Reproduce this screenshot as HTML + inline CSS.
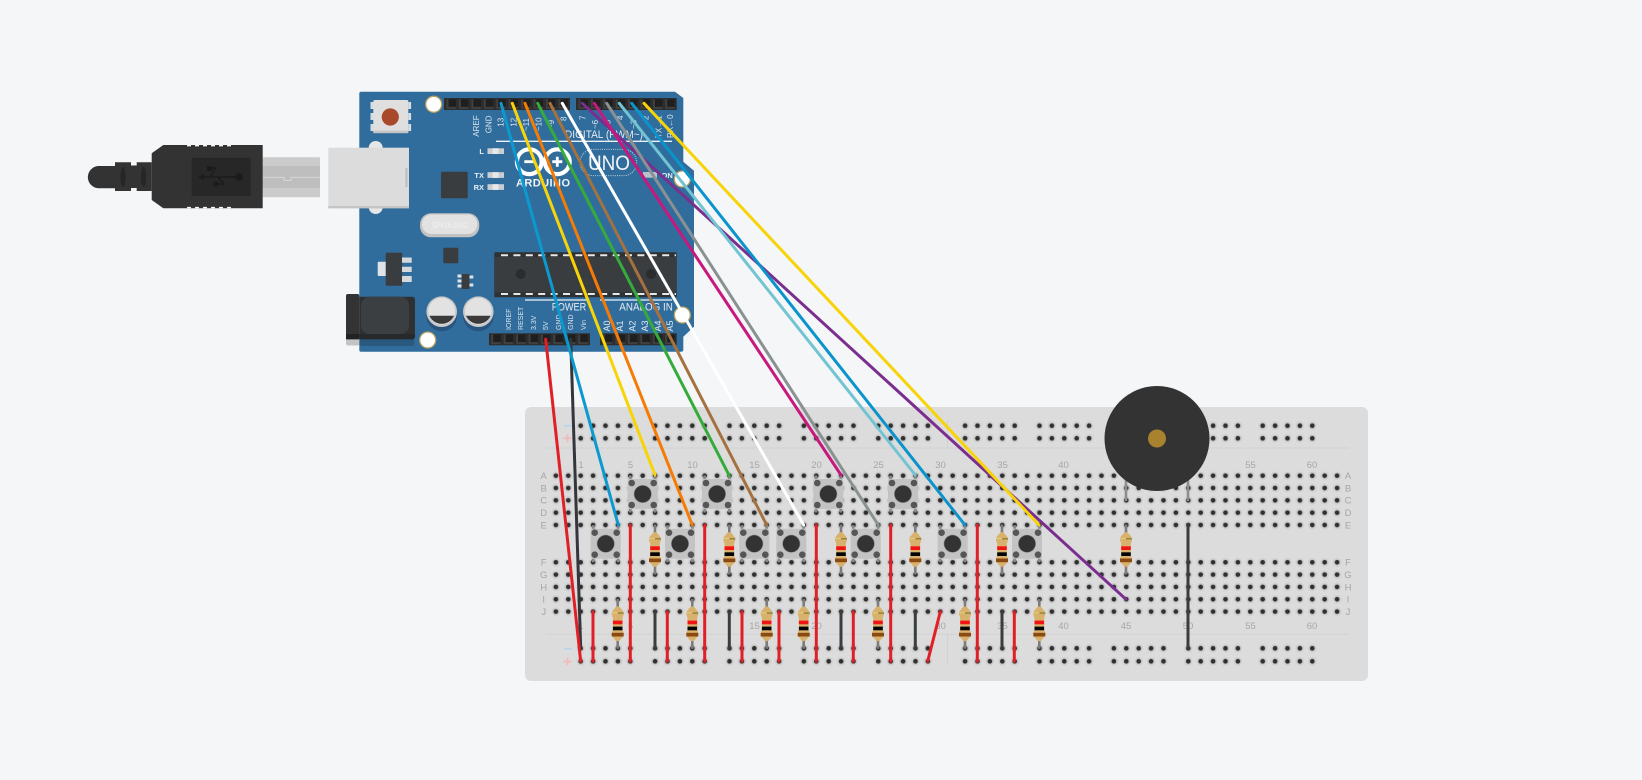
<!DOCTYPE html>
<html><head><meta charset="utf-8"><style>
html,body{margin:0;padding:0;background:#f4f6f8;width:1642px;height:780px;overflow:hidden}
svg{display:block}
text{font-family:"Liberation Sans",sans-serif}
.bl{font-size:9.5px;fill:#a6a6a6;text-anchor:middle}
.al{font-size:8px;fill:#dbe5ec;text-anchor:start}
.as{font-size:7px;fill:#dbe5ec;text-anchor:start}
.aa{font-size:9px;fill:#e3ebf1;text-anchor:start}
.ah{font-size:11px;fill:#e6edf3}
.sl{font-size:7.5px;font-weight:bold;fill:#e6edf3}
</style></head><body>
<svg width="1642" height="780" viewBox="0 0 1642 780" xmlns="http://www.w3.org/2000/svg">
<defs>
<radialGradient id="hg"><stop offset="0.45" stop-color="#bababa"/><stop offset="0.75" stop-color="#d0d0d0"/><stop offset="1" stop-color="#dcdcdc"/></radialGradient>
<pattern id="hm" patternUnits="userSpaceOnUse" x="549.7" y="469.5" width="12.4" height="12.33">
<circle cx="6.2" cy="6.2" r="4.8" fill="url(#hg)"/><circle cx="6.2" cy="6.2" r="2.3" fill="#303030"/>
</pattern>
<pattern id="hn" patternUnits="userSpaceOnUse" x="549.7" y="556.1" width="12.4" height="12.33">
<circle cx="6.2" cy="6.2" r="4.8" fill="url(#hg)"/><circle cx="6.2" cy="6.2" r="2.3" fill="#303030"/>
</pattern>
<pattern id="rt" patternUnits="userSpaceOnUse" x="574.5" y="419.5" width="12.4" height="12.6">
<circle cx="6.2" cy="6.2" r="4.8" fill="url(#hg)"/><circle cx="6.2" cy="6.2" r="2.3" fill="#303030"/>
</pattern>
<pattern id="rb" patternUnits="userSpaceOnUse" x="574.5" y="642.1" width="12.4" height="13">
<circle cx="6.2" cy="6.2" r="4.8" fill="url(#hg)"/><circle cx="6.2" cy="6.2" r="2.3" fill="#303030"/>
</pattern>
<g id="btn">
<path d="M-12.4-18.5V18.5M12.4-18.5V18.5" stroke="#8a8a8a" stroke-width="2.6"/>
<rect x="-15" y="-15" width="30" height="30" rx="1.5" fill="#c3c3c3"/>
<circle cx="-11" cy="-11" r="3.3" fill="#565656"/><circle cx="11" cy="-11" r="3.3" fill="#565656"/>
<circle cx="-11" cy="11" r="3.3" fill="#565656"/><circle cx="11" cy="11" r="3.3" fill="#565656"/>
<circle cx="0" cy="0" r="9" fill="#8f8f8f"/><circle cx="0" cy="0" r="8.4" fill="#333"/>
</g>
<g id="res">
<path d="M0-25V25" stroke="#7c7c7c" stroke-width="2.6"/>
<path d="M-1.6-17.3C-3-15-6-13-6-10.5C-6-8-4.8-7-4.8-5V5C-4.8 7-6 8-6 10.5C-6 13-3 15-1.6 17.3H1.6C3 15 6 13 6 10.5C6 8 4.8 7 4.8 5V-5C4.8-7 6-8 6-10.5C6-13 3-15 1.6-17.3Z" fill="#d8b26c"/>
<rect x="0" y="-11.5" width="6" height="1.5" fill="#8f8740"/><rect x="-6" y="-11.5" width="6" height="1" fill="#e3cf7a"/>
<rect x="-4.8" y="-3.2" width="9.6" height="3.7" fill="#f01414"/>
<rect x="-4.8" y="2.8" width="9.6" height="3.7" fill="#050505"/>
<rect x="-6" y="9" width="12" height="3.7" fill="#8a4a12"/>
</g>
<g id="pin"><rect x="-4.8" y="-4.8" width="9.6" height="9.6" fill="#404040"/><rect x="-2.8" y="-4.8" width="7.6" height="7.6" fill="#1f1f1f"/></g>
<g id="hole"><circle r="8" fill="#fff" stroke="#b8a163" stroke-width="1.3"/></g>
</defs>

<rect width="1642" height="780" fill="#f4f6f8"/>

<!-- breadboard -->
<rect x="525" y="407" width="843" height="274" rx="6" fill="#dcdcdc"/>
<path d="M546 448H1348.7M546 634.3H1348.7M947.5 420V448M947.5 634.3V664" stroke="#d2d2d2" stroke-width="1" fill="none"/>
<rect x="549.7" y="469.5" width="793.6" height="61.7" fill="url(#hm)"/>
<rect x="549.7" y="556.1" width="793.6" height="61.7" fill="url(#hn)"/>
<!-- rails -->
<g fill="url(#rt)">
<rect x="574.5" y="419.5" width="62" height="25.2"/><rect x="648.9" y="419.5" width="62" height="25.2"/><rect x="723.3" y="419.5" width="62" height="25.2"/><rect x="797.7" y="419.5" width="62" height="25.2"/><rect x="872.1" y="419.5" width="62" height="25.2"/><rect x="958.9" y="419.5" width="62" height="25.2"/><rect x="1033.3" y="419.5" width="62" height="25.2"/><rect x="1107.7" y="419.5" width="62" height="25.2"/><rect x="1182.1" y="419.5" width="62" height="25.2"/><rect x="1256.5" y="419.5" width="62" height="25.2"/>
</g>
<g fill="url(#rb)">
<rect x="574.5" y="642.1" width="62" height="26"/><rect x="648.9" y="642.1" width="62" height="26"/><rect x="723.3" y="642.1" width="62" height="26"/><rect x="797.7" y="642.1" width="62" height="26"/><rect x="872.1" y="642.1" width="62" height="26"/><rect x="958.9" y="642.1" width="62" height="26"/><rect x="1033.3" y="642.1" width="62" height="26"/><rect x="1107.7" y="642.1" width="62" height="26"/><rect x="1182.1" y="642.1" width="62" height="26"/><rect x="1256.5" y="642.1" width="62" height="26"/>
</g>
<path d="M564 425.7H572M564 648.8H572" stroke="#b9d6e8" stroke-width="2"/>
<path d="M563.5 438.3H571.5M567.5 434.3V442.3M563.5 661.5H571.5M567.5 657.5V665.5" stroke="#f2bcbc" stroke-width="2"/>
<!-- column labels -->
<g>
<text class="bl" x="581" y="468">1</text><text class="bl" x="630.5" y="468">5</text><text class="bl" x="692.5" y="468">10</text><text class="bl" x="754.5" y="468">15</text><text class="bl" x="816.5" y="468">20</text><text class="bl" x="878.5" y="468">25</text><text class="bl" x="940.5" y="468">30</text><text class="bl" x="1002.5" y="468">35</text><text class="bl" x="1063.5" y="468">40</text><text class="bl" x="1126" y="468">45</text><text class="bl" x="1188" y="468">50</text><text class="bl" x="1250.5" y="468">55</text><text class="bl" x="1312" y="468">60</text>
<text class="bl" x="581" y="629">1</text><text class="bl" x="630.5" y="629">5</text><text class="bl" x="692.5" y="629">10</text><text class="bl" x="754.5" y="629">15</text><text class="bl" x="816.5" y="629">20</text><text class="bl" x="878.5" y="629">25</text><text class="bl" x="940.5" y="629">30</text><text class="bl" x="1002.5" y="629">35</text><text class="bl" x="1063.5" y="629">40</text><text class="bl" x="1126" y="629">45</text><text class="bl" x="1188" y="629">50</text><text class="bl" x="1250.5" y="629">55</text><text class="bl" x="1312" y="629">60</text>
<text class="bl" x="543.7" y="479">A</text><text class="bl" x="543.7" y="491.5">B</text><text class="bl" x="543.7" y="503.5">C</text><text class="bl" x="543.7" y="516">D</text><text class="bl" x="543.7" y="528.5">E</text><text class="bl" x="543.7" y="565.5">F</text><text class="bl" x="543.7" y="578">G</text><text class="bl" x="543.7" y="590.5">H</text><text class="bl" x="543.7" y="602.5">I</text><text class="bl" x="543.7" y="615">J</text>
<text class="bl" x="1348" y="479">A</text><text class="bl" x="1348" y="491.5">B</text><text class="bl" x="1348" y="503.5">C</text><text class="bl" x="1348" y="516">D</text><text class="bl" x="1348" y="528.5">E</text><text class="bl" x="1348" y="565.5">F</text><text class="bl" x="1348" y="578">G</text><text class="bl" x="1348" y="590.5">H</text><text class="bl" x="1348" y="602.5">I</text><text class="bl" x="1348" y="615">J</text>
</g>
<!-- buttons -->
<use href="#btn" x="642.7" y="494"/><use href="#btn" x="717" y="494"/><use href="#btn" x="828.3" y="494"/><use href="#btn" x="903" y="494"/>
<use href="#btn" x="605.7" y="543.7"/><use href="#btn" x="680" y="543.7"/><use href="#btn" x="754.3" y="543.7"/><use href="#btn" x="791.3" y="543.7"/><use href="#btn" x="865.7" y="543.7"/><use href="#btn" x="952.6" y="543.7"/><use href="#btn" x="1027" y="543.7"/>
<!-- resistors -->
<use href="#res" x="655" y="549.5"/><use href="#res" x="729.3" y="549.5"/><use href="#res" x="841" y="549.5"/><use href="#res" x="915.3" y="549.5"/><use href="#res" x="1002" y="549.5"/><use href="#res" x="1126" y="549.5"/>
<use href="#res" x="617.7" y="623.8"/><use href="#res" x="692.3" y="623.8"/><use href="#res" x="766.7" y="623.8"/><use href="#res" x="803.7" y="623.8"/><use href="#res" x="878" y="623.8"/><use href="#res" x="965" y="623.8"/><use href="#res" x="1039.3" y="623.8"/>
<!-- breadboard wires -->
<g stroke-width="3" stroke-linecap="round" fill="none">
<g stroke="#3a3d40"><path d="M655 611.7V648.3M729.3 611.7V648.3M841 611.7V648.3M915.3 611.7V648.3M1002 611.7V648.3M1188 525V648.3"/></g>
<g stroke="#e11f26"><path d="M593 611.7V661.3M667.3 611.7V661.3M742 611.7V661.3M779 611.7V661.3M853.3 611.7V661.3M1014.3 611.7V661.3M630.3 525V661.3M704.7 525V661.3M816.3 525V661.3M890.7 525V661.3M977.3 525V661.3M940.3 611.7L927.7 661.3"/></g>
</g>
<!-- buzzer pins -->
<path d="M1126 480V500M1188 480V500" stroke="#8d8d8d" stroke-width="2.6" stroke-linecap="round"/>

<!-- Arduino board -->
<path d="M361 91.7H675L683.3 98V161.7L694 170.7V326.7L683.3 336.7V349.7Q683.3 351.7 681 351.7H361Q359.3 351.7 359.3 349.7V93.5Q359.3 91.7 361 91.7Z" fill="#306d9c"/>
<rect x="359.3" y="330" width="55" height="16" rx="2" fill="#29597f"/>
<!-- USB -->
<path d="M375.7 141a7 7 0 0 1 7 7V207a7 7 0 0 1-14 0V148a7 7 0 0 1 7-7Z" fill="#e6e6e6"/>
<rect x="262.7" y="157.3" width="57.3" height="40" rx="1" fill="#cbcbcb"/>
<rect x="262.7" y="166" width="57.3" height="22" fill="#bebebe"/>
<path d="M262.7 177.4H284V180.5H291V177.4H320" stroke="#d8d8d8" stroke-width="1" fill="none"/>
<rect x="328.3" y="147.7" width="80.7" height="59.6" fill="#dcdcdc"/>
<rect x="328.3" y="206" width="80.7" height="2.4" fill="#c4c4c4"/>
<rect x="405.5" y="168" width="2" height="19" fill="#bdbdbd"/>
<path d="M98 166H115V188.3H98A11.2 11.2 0 0 1 98 166Z" fill="#333"/>
<path d="M115 162.3H131V165.5H136.7V162.3H151.7V191H136.7V188H131V191H115Z" fill="#333"/>
<ellipse cx="123" cy="177" rx="2.6" ry="10" fill="#262626"/><ellipse cx="143.5" cy="177" rx="2.6" ry="10" fill="#262626"/>
<path d="M163.3 145H262.7V208.3H163.3L151.7 200V153.3Z" fill="#333"/>
<path d="M187 145.7h4M195 145.7h4M203 145.7h4M211 145.7h4M219 145.7h4M227 145.7h4M187 207.6h4M195 207.6h4M203 207.6h4M211 207.6h4M219 207.6h4M227 207.6h4" stroke="#f4f6f8" stroke-width="1.4"/>
<rect x="191.7" y="157.7" width="59" height="38.3" fill="#272727"/>
<path d="M201 177H239M210 177L216 168H207M218 177L224 184H216" stroke="#1b1b1b" stroke-width="1.4" fill="none"/>
<path d="M198 177L204 174V180Z" fill="#1b1b1b"/><circle cx="239" cy="177" r="3.8" fill="#1b1b1b"/><circle cx="216" cy="184" r="2.6" fill="#1b1b1b"/><rect x="207" y="166" width="5" height="5" fill="#1b1b1b"/>
<!-- reset -->
<path d="M370.5 102h3v7h-3ZM370.5 113h3v7h-3ZM370.5 124h3v7h-3ZM408.3 102h2.8v7h-2.8ZM408.3 124h2.8v7h-2.8ZM408.3 113h2.8v7h-2.8Z" fill="#d6dde3"/>
<rect x="373.3" y="100" width="35" height="32.7" rx="1.5" fill="#dfdfdf"/>
<rect x="373.3" y="130.7" width="35" height="2.5" fill="#c5c5c5"/>
<circle cx="390.3" cy="117" r="8.6" fill="#a9492b"/>
<use href="#hole" x="433.7" y="104.3"/><use href="#hole" x="682.3" y="179"/><use href="#hole" x="427.7" y="340"/><use href="#hole" x="682.3" y="315"/>
<!-- headers -->
<rect x="444" y="98" width="126" height="12" fill="#2d2d2d"/><rect x="576" y="98" width="100.7" height="12" fill="#2d2d2d"/>
<rect x="489" y="333.3" width="101" height="12" fill="#2d2d2d"/><rect x="600" y="333.3" width="76.7" height="12" fill="#2d2d2d"/>
<use href="#pin" x="451.3" y="104"/><use href="#pin" x="463.7" y="104"/><use href="#pin" x="476.2" y="104"/><use href="#pin" x="488.6" y="104"/><use href="#pin" x="501" y="104"/><use href="#pin" x="513.5" y="104"/><use href="#pin" x="526" y="104"/><use href="#pin" x="538.4" y="104"/><use href="#pin" x="550.8" y="104"/><use href="#pin" x="563.3" y="104"/>
<use href="#pin" x="583.3" y="104"/><use href="#pin" x="595.7" y="104"/><use href="#pin" x="608.1" y="104"/><use href="#pin" x="620.5" y="104"/><use href="#pin" x="632.9" y="104"/><use href="#pin" x="645.3" y="104"/><use href="#pin" x="657.7" y="104"/><use href="#pin" x="670" y="104"/>
<use href="#pin" x="496" y="339.3"/><use href="#pin" x="508.4" y="339.3"/><use href="#pin" x="520.9" y="339.3"/><use href="#pin" x="533.3" y="339.3"/><use href="#pin" x="545.7" y="339.3"/><use href="#pin" x="558.1" y="339.3"/><use href="#pin" x="570.6" y="339.3"/><use href="#pin" x="583" y="339.3"/>
<use href="#pin" x="607.7" y="339.3"/><use href="#pin" x="620.2" y="339.3"/><use href="#pin" x="632.6" y="339.3"/><use href="#pin" x="645.1" y="339.3"/><use href="#pin" x="657.5" y="339.3"/><use href="#pin" x="670" y="339.3"/>
<!-- top labels -->
<text class="al" transform="translate(479 136.7) rotate(-90)">AREF</text>
<text class="al" transform="translate(491.3 133.3) rotate(-90)">GND</text>
<text class="al" transform="translate(503.7 126.7) rotate(-90)">13</text>
<text class="al" transform="translate(516.3 126.7) rotate(-90)">12</text>
<text class="al" transform="translate(529 131) rotate(-90)">~11</text>
<text class="al" transform="translate(541.3 131) rotate(-90)">~10</text>
<text class="al" transform="translate(554 129) rotate(-90)">~9</text>
<text class="al" transform="translate(566.3 121) rotate(-90)">8</text>
<text class="al" transform="translate(585.7 120) rotate(-90)">7</text>
<text class="al" transform="translate(598 129) rotate(-90)">~6</text>
<text class="al" transform="translate(610.7 129) rotate(-90)">~5</text>
<text class="al" transform="translate(623 120) rotate(-90)">4</text>
<text class="al" transform="translate(636.3 129) rotate(-90)">~3</text>
<text class="al" transform="translate(648.7 120) rotate(-90)">2</text>
<text class="al" transform="translate(661.3 138) rotate(-90)">TX&#8594;1</text>
<text class="al" transform="translate(673 138) rotate(-90)">RX&#8592;0</text>
<text class="ah" x="565" y="138" textLength="78" lengthAdjust="spacingAndGlyphs">DIGITAL (PWM~)</text>
<path d="M496 141.3H672M525 300H586.7M600 300H672" stroke="#eef3f6" stroke-width="1.3"/>
<!-- LEDs -->
<rect x="487.5" y="148.3" width="16.5" height="5.7" fill="#c9ced2"/><rect x="492.5" y="148.3" width="6" height="5.7" fill="#e8e8e8"/>
<rect x="487.5" y="172.2" width="16.5" height="5.7" fill="#c9ced2"/><rect x="492.5" y="172.2" width="6" height="5.7" fill="#e8e8e8"/>
<rect x="487.5" y="184.2" width="16.5" height="5.7" fill="#c9ced2"/><rect x="492.5" y="184.2" width="6" height="5.7" fill="#e8e8e8"/>
<rect x="643" y="172" width="14" height="5.7" fill="#b8c2ca"/>
<text class="sl" x="484" y="154" text-anchor="end">L</text>
<text class="sl" x="484" y="178" text-anchor="end">TX</text>
<text class="sl" x="484" y="190" text-anchor="end">RX</text>
<text class="sl" x="661.5" y="178">ON</text>
<!-- logo -->
<circle cx="529.3" cy="161.7" r="12.4" fill="none" stroke="#fff" stroke-width="4.2"/>
<circle cx="557.3" cy="161.7" r="12.4" fill="none" stroke="#fff" stroke-width="4.2"/>
<path d="M524.3 161.7H534.3M552.3 161.7H562.3M557.3 156.7V166.7" stroke="#fff" stroke-width="2.8"/>
<text x="516" y="186.7" font-size="11" font-weight="bold" textLength="54" fill="#f0f4f7">ARDUINO</text>
<rect x="580" y="149.3" width="56.7" height="26.4" rx="13.2" fill="none" stroke="#d5e0e8" stroke-width="0.9" stroke-dasharray="1 1.2"/>
<text x="588" y="170" font-size="21" textLength="42" lengthAdjust="spacingAndGlyphs" fill="#f0f4f7">UNO</text>
<!-- chips -->
<rect x="441" y="171.7" width="26.7" height="26.6" rx="1" fill="#3a3d40"/>
<rect x="420" y="213.3" width="59.3" height="24" rx="11" fill="#c2c2c2"/>
<rect x="422" y="214.5" width="55.3" height="19.5" rx="9.5" fill="#e2e2e2"/>
<text x="432" y="228" font-size="8" textLength="36" lengthAdjust="spacingAndGlyphs" fill="#f2f2f2">SPK16.000G</text>
<rect x="443.3" y="247.7" width="15" height="15.6" rx="0.8" fill="#3a3d40"/>
<rect x="377.7" y="261.7" width="9" height="14.3" rx="1" fill="#dfe4e8"/>
<rect x="385.7" y="252.7" width="16.6" height="33" rx="1" fill="#3a3d40"/>
<path d="M402 257.5h9.7v5.3H402ZM402 266.7h9.7v5.3H402ZM402 276h9.7v6H402Z" fill="#d6d9dc"/>
<path d="M457.5 274.5h4v3h-4ZM457.5 279.5h4v3h-4ZM457.5 284.5h4v3h-4ZM469.3 275.5h4v3h-4ZM469.3 283.5h4v3h-4Z" fill="#dfe3e6"/>
<rect x="461.5" y="274" width="8" height="15" fill="#3a3d40"/>
<rect x="494.3" y="252.3" width="182.4" height="45" rx="1" fill="#2f3133"/>
<rect x="494.3" y="257" width="182.4" height="35.5" fill="#3a3d40"/>
<path d="M501 255.2H676" stroke="#e8e8e8" stroke-width="2" stroke-dasharray="7 5.4"/>
<path d="M501 294H676" stroke="#e8e8e8" stroke-width="2" stroke-dasharray="7 5.4"/>
<circle cx="520.7" cy="274" r="5" fill="#2a2c2e"/><circle cx="651" cy="274" r="5" fill="#2a2c2e"/>
<text class="ah" x="551.7" y="310.5" textLength="34.5" lengthAdjust="spacingAndGlyphs">POWER</text>
<text class="ah" x="619.3" y="310.5" textLength="53.5" lengthAdjust="spacingAndGlyphs">ANALOG IN</text>
<g>
<text class="as" transform="translate(510.8 330) rotate(-90)">IOREF</text>
<text class="as" transform="translate(523.2 330) rotate(-90)">RESET</text>
<text class="as" transform="translate(535.8 330) rotate(-90)">3.3V</text>
<text class="as" transform="translate(548.2 330) rotate(-90)">5V</text>
<text class="as" transform="translate(560.8 330) rotate(-90)">GND</text>
<text class="as" transform="translate(573.2 330) rotate(-90)">GND</text>
<text class="as" transform="translate(585.8 330) rotate(-90)">Vin</text>
<text class="aa" transform="translate(609.9 331.5) rotate(-90)">A0</text>
<text class="aa" transform="translate(623.2 331.5) rotate(-90)">A1</text>
<text class="aa" transform="translate(635.5 331.5) rotate(-90)">A2</text>
<text class="aa" transform="translate(648.2 331.5) rotate(-90)">A3</text>
<text class="aa" transform="translate(660.9 331.5) rotate(-90)">A4</text>
<text class="aa" transform="translate(673.2 331.5) rotate(-90)">A5</text>
</g>
<!-- caps -->
<circle cx="441.7" cy="316" r="15.3" fill="#285480"/><circle cx="478.3" cy="316" r="15.3" fill="#285480"/>
<circle cx="441.7" cy="311.7" r="15.3" fill="#c9c9c9"/><circle cx="478.3" cy="311.7" r="15.3" fill="#c9c9c9"/>
<circle cx="441.7" cy="311.2" r="13.4" fill="#e2e2e2"/><circle cx="478.3" cy="311.2" r="13.4" fill="#e2e2e2"/>
<path d="M429.4 315.7H454A13.4 13.4 0 0 1 429.4 315.7Z" fill="#3a3a3a"/><path d="M466 315.7H490.6A13.4 13.4 0 0 1 466 315.7Z" fill="#3a3a3a"/>
<!-- jack -->
<rect x="346" y="335" width="13.3" height="10.5" rx="2" fill="#c4c4c4"/>
<rect x="346" y="294" width="13.3" height="45.3" rx="2" fill="#333"/>
<rect x="346" y="334" width="13.3" height="5.3" fill="#222"/>
<path d="M359.3 296.7H412Q415 296.7 415 299.7V336Q415 339.3 412 339.3H359.3Z" fill="#2e3032"/>
<rect x="361" y="296.7" width="48" height="37.5" rx="9" fill="#3c3f42"/>
<path d="M359.3 334H415V336Q415 339.3 412 339.3H359.3Z" fill="#28292b"/>
<!-- long wires -->
<g stroke-width="3" stroke-linecap="round" fill="none">
<path d="M570.7 339.3L580.7 648.3" stroke="#33363a"/>
<path d="M545.7 339.3L580.7 661.3" stroke="#e11f26"/>
<path d="M582.3 103.3L1126 599.3" stroke="#7a2e8e"/>
<path d="M606.7 103.3L878.3 525" stroke="#8a9192"/>
<path d="M594.3 103.3L841 475" stroke="#c7187f"/>
<path d="M562.3 103.3L803.7 525" stroke="#ffffff"/>
<path d="M550 103.3L766.7 525" stroke="#a5713f"/>
<path d="M537.7 103.3L729.3 475.7" stroke="#35ab3c"/>
<path d="M525 103.3L692.3 525" stroke="#f57b05"/>
<path d="M512.3 103.3L655 475" stroke="#f7d308"/>
<path d="M501 103.3L618.3 525" stroke="#0b99cf"/>
<path d="M619.3 103.3L915.3 475" stroke="#72c4d2"/>
<path d="M631.7 103.3L965 525" stroke="#0b93cc"/>
<path d="M644 103.3L1039 525" stroke="#f7d308"/>
</g>
<!-- buzzer -->
<circle cx="1157" cy="438.5" r="52.5" fill="#333"/>
<circle cx="1157" cy="438.5" r="9" fill="#a8822f"/>
</svg>
</body></html>
